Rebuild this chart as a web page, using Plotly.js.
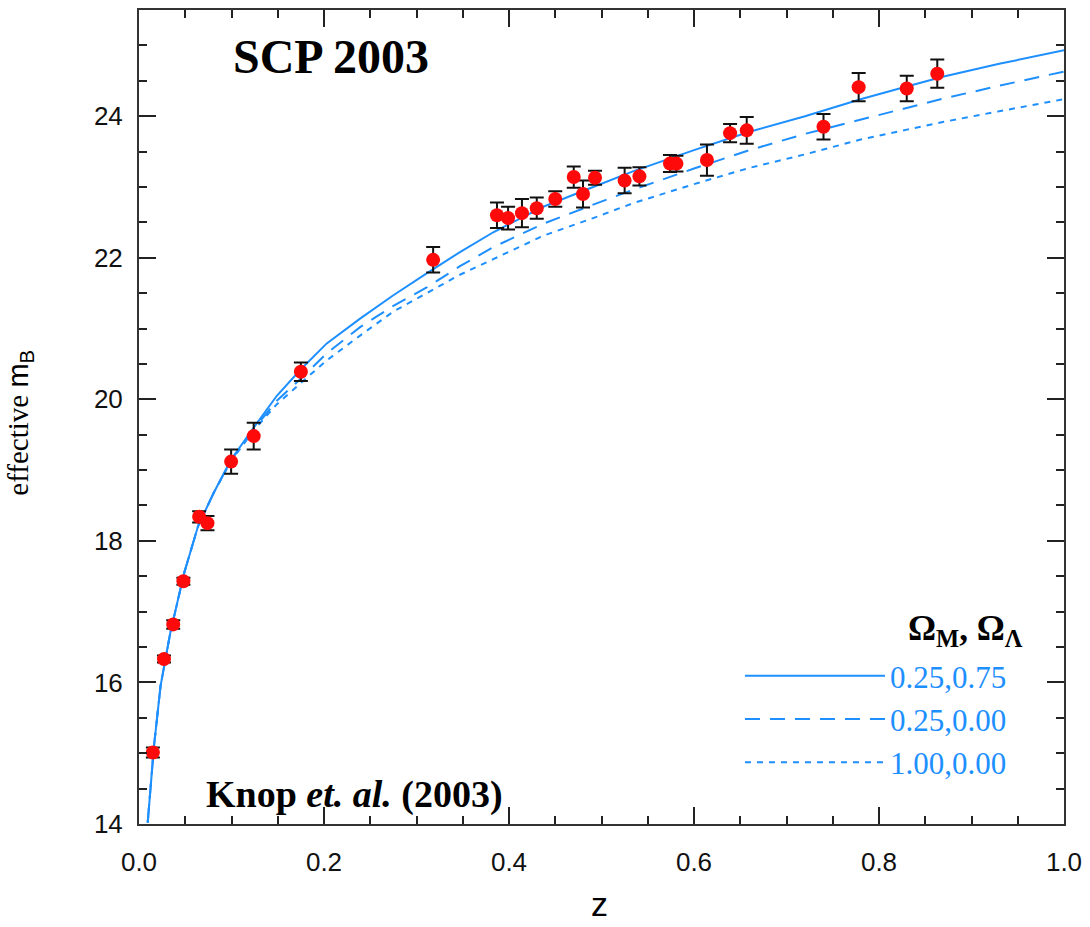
<!DOCTYPE html>
<html>
<head>
<meta charset="utf-8">
<script src="https://cdn.plot.ly/plotly-3.0.1.min.js"></script>
<style>html,body{margin:0;padding:0;background:#fff;}</style>
</head>
<body>
<div id="chart" style="width:1090px;height:927px;"></div>
<script>
// Observed supernovae (Knop et al. 2003)
const zObs = [0.015, 0.027, 0.037, 0.048, 0.065, 0.074, 0.0996, 0.124, 0.175, 0.318,
              0.387, 0.399, 0.414, 0.430, 0.450, 0.470, 0.480, 0.493, 0.525, 0.541,
              0.574, 0.581, 0.614, 0.639, 0.657, 0.740, 0.778, 0.830, 0.863];
const mObs = [15.01, 16.33, 16.82, 17.43, 18.34, 18.25, 19.12, 19.48, 20.39, 21.97,
              22.60, 22.56, 22.63, 22.70, 22.83, 23.14, 22.90, 23.13, 23.09, 23.15,
              23.33, 23.33, 23.38, 23.76, 23.80, 23.85, 24.41, 24.39, 24.60];
const mErr = [0.07, 0.05, 0.06, 0.05, 0.08, 0.10, 0.17, 0.19, 0.13, 0.18,
              0.18, 0.16, 0.20, 0.15, 0.11, 0.15, 0.19, 0.10, 0.18, 0.13,
              0.12, 0.11, 0.22, 0.13, 0.19, 0.18, 0.20, 0.18, 0.20];

// Model curves
const zModel = [0.0094, 0.0162, 0.0233, 0.0338, 0.0489, 0.0639, 0.0808, 0.0996, 0.124, 0.149,
                0.174, 0.203, 0.239, 0.275, 0.311, 0.347, 0.383, 0.437, 0.491, 0.534,
                0.600, 0.660, 0.720, 0.780, 0.830, 0.870, 0.930, 0.990, 1.000];
const mLambda = [14.02, 15.10, 15.95, 16.70, 17.55, 18.21, 18.68, 19.15, 19.60, 20.05,
                 20.41, 20.79, 21.14, 21.47, 21.78, 22.08, 22.36, 22.72, 23.00, 23.22,
                 23.52, 23.78, 24.00, 24.24, 24.42, 24.56, 24.74, 24.90, 24.93];
const mOpen   = [14.02, 15.10, 15.95, 16.70, 17.55, 18.21, 18.68, 19.14, 19.58, 19.98,
                 20.28, 20.65, 21.02, 21.32, 21.58, 21.88, 22.15, 22.48, 22.75, 22.96,
                 23.26, 23.52, 23.75, 23.95, 24.12, 24.25, 24.43, 24.60, 24.63];
const mFlat   = [14.02, 15.10, 15.95, 16.70, 17.55, 18.21, 18.68, 19.13, 19.56, 19.93,
                 20.22, 20.55, 20.90, 21.24, 21.50, 21.76, 21.98, 22.31, 22.56, 22.77,
                 23.04, 23.27, 23.46, 23.67, 23.81, 23.92, 24.07, 24.22, 24.24];
const modelNames = ["0.25,0.75", "0.25,0.00", "1.00,0.00"];

const xTickVals = [0, 0.2, 0.4, 0.6, 0.8, 1.0];
const xTickText = ["0.0", "0.2", "0.4", "0.6", "0.8", "1.0"];
const yTickVals = [14, 16, 18, 20, 22, 24];
const yTickText = ["14", "16", "18", "20", "22", "24"];

const blue = "#1e8fff";
const dashes = ["solid", "15px,10px", "6px,6px"];
const models = [mLambda, mOpen, mFlat];

const traces = models.map((m, i) => ({
  x: zModel, y: m, type: "scatter", mode: "lines",
  name: modelNames[i],
  line: {color: blue, width: 2, dash: dashes[i]},
  hoverinfo: "skip"
}));

traces.push({
  x: zObs, y: mObs, type: "scatter", mode: "markers",
  showlegend: false,
  marker: {color: "#ff0a0a", size: 14, line: {width: 0}},
  error_y: {type: "data", array: mErr, visible: true, color: "#111", thickness: 2, width: 7}
});

const axisCommon = {
  showgrid: false, zeroline: false,
  showline: true, linecolor: "#333", linewidth: 2, mirror: "ticks",
  ticks: "inside", tickcolor: "#222", tickwidth: 2, ticklen: 17,
  tickfont: {family: "Liberation Sans, Arial, sans-serif", size: 26, color: "#111"}
};

const layout = {
  width: 1090, height: 927,
  margin: {l: 139, r: 26, t: 10, b: 103},
  paper_bgcolor: "#fff", plot_bgcolor: "#fff",
  showlegend: true,
  legend: {
    x: 0.6497, xanchor: "left", y: 0.215, yanchor: "top",
    bgcolor: "rgba(0,0,0,0)", borderwidth: 0,
    itemwidth: 140,
    font: {family: "Liberation Serif, Times New Roman, serif", size: 31, color: blue}
  },
  xaxis: Object.assign({}, axisCommon, {
    range: [0, 1.0], tickmode: "array", tickvals: xTickVals, ticktext: xTickText,
    ticklabelstandoff: 14,
    minor: {dtick: 0.05, tick0: 0, ticks: "inside", ticklen: 8, tickwidth: 2, tickcolor: "#222", showgrid: false}
  }),
  yaxis: Object.assign({}, axisCommon, {
    range: [14, 25.5], tickmode: "array", tickvals: yTickVals, ticktext: yTickText,
    ticklabelstandoff: 9,
    minor: {dtick: 0.5, tick0: 14, ticks: "inside", ticklen: 8, tickwidth: 2, tickcolor: "#222", showgrid: false}
  }),
  annotations: [
    {text: "<b>SCP 2003</b>", xref: "paper", yref: "paper", x: 0.2076, y: 0.9423,
     xanchor: "center", yanchor: "middle", showarrow: false,
     font: {family: "Liberation Serif, Times New Roman, serif", size: 48, color: "#000"}},
    {text: "<b>Knop <i>et. al.</i> (2003)</b>", xref: "paper", yref: "paper", x: 0.2335, y: 0.036,
     xanchor: "center", yanchor: "middle", showarrow: false,
     font: {family: "Liberation Serif, Times New Roman, serif", size: 38, color: "#000"}},
    {text: "<b>Ω<sub>M</sub>, Ω<sub>Λ</sub></b>", xref: "paper", yref: "paper", x: 0.893, y: 0.2383,
     xanchor: "center", yanchor: "middle", showarrow: false,
     font: {family: "Liberation Serif, Times New Roman, serif", size: 35, color: "#000"}},
    {text: "effective <span style=\"font-family:Liberation Sans, Arial, sans-serif\">m<sub>B</sub></span>",
     xref: "paper", yref: "paper", x: -0.1286, y: 0.493, textangle: -90,
     xanchor: "center", yanchor: "middle", showarrow: false,
     font: {family: "Liberation Serif, Times New Roman, serif", size: 29, color: "#000"}},
    {text: "z", xref: "paper", yref: "paper", x: 0.4973, y: -0.098,
     xanchor: "center", yanchor: "middle", showarrow: false,
     font: {family: "Liberation Sans, Arial, sans-serif", size: 34, color: "#000"}}
  ]
};

Plotly.newPlot("chart", traces, layout, {displayModeBar: false, staticPlot: true});
</script>
</body>
</html>
